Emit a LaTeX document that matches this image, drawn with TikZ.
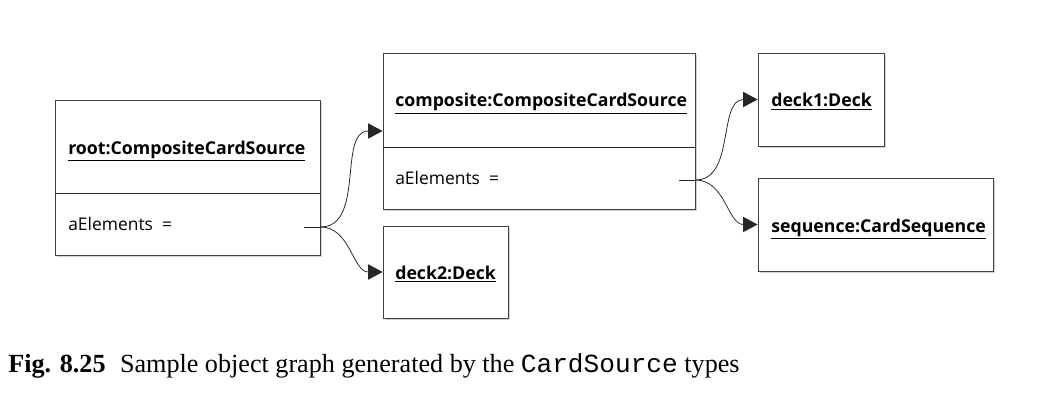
\documentclass[tikz,border=0pt]{standalone}
\usepackage{fontspec}
\setmainfont{Liberation Serif}
\newfontfamily\umlfont{Open Sans}
\newfontfamily\capmono{Liberation Mono}
\usepackage{tikz}
\usetikzlibrary{arrows.meta,shadows,positioning,calc}

\begin{document}
\begin{tikzpicture}[x=0.025cm, y=-0.025cm,
    objbox/.style={draw=black!75, line width=0.6pt, fill=white, inner sep=0pt,
        drop shadow={shadow xshift=1.2pt, shadow yshift=-1.2pt, fill=black!35, opacity=0.5}},
    objname/.style={font=\umlfont\fontsize{12.6}{15}\selectfont\bfseries, anchor=base west, inner sep=0pt},
    attr/.style={font=\umlfont\fontsize{12.4}{15}\selectfont, anchor=base west, inner sep=0pt},
    link/.style={draw=black!85, line width=0.55pt},
    linkarr/.style={link, -{Triangle[length=0.36cm, width=0.38cm]}}]

\useasboundingbox (0,0) rectangle (1057,420);

% Object boxes
\node[objbox, minimum width=6.625cm, minimum height=3.875cm] (root) at (187.5,177.5) {};
\node[objbox, minimum width=7.8cm, minimum height=3.9cm] (composite) at (539,131) {};
\node[objbox, minimum width=3.125cm, minimum height=2.3cm] (deck2) at (445.5,272) {};
\node[objbox, minimum width=3.15cm, minimum height=2.325cm] (deck1) at (821,99.5) {};
\node[objbox, minimum width=5.875cm, minimum height=2.325cm] (sequence) at (875.5,224.5) {};

% Compartment lines
\draw[link] (root.west |- 0,193) -- (root.east |- 0,193);
\draw[link] (composite.west |- 0,147) -- (composite.east |- 0,147);

% Object names
\node[objname] (rootname) at (68,154) {\underline{root:CompositeCardSource}};
\node[objname] (compname) at (395,107) {\underline{composite:CompositeCardSource}};
\node[objname] (deck2name) at (395,279) {\underline{deck2:Deck}};
\node[objname] (deck1name) at (771,107) {\underline{deck1:Deck}};
\node[objname] (seqname) at (771,232) {\underline{sequence:CardSequence}};

% Attributes
\node[attr] (rootattr) at (68,230) {aElements\ \ =};
\node[attr] (compattr) at (395,184) {aElements\ \ =};

% Links
\coordinate (rootout) at (root.east |- 0,227);
\coordinate (compout) at (composite.east |- 0,180);
\draw[link] ($(rootout)+(-16,0)$) -- (rootout);
\draw[link] ($(compout)+(-16,0)$) -- (compout);
\draw[linkarr] (rootout) to[out=0, in=180] (composite.west);
\draw[linkarr] (rootout) to[out=0, in=180] (deck2.west);
\draw[linkarr] (compout) to[out=0, in=180] (deck1.west);
\draw[linkarr] (compout) to[out=0, in=180] (sequence.west);

% Caption
\node[anchor=base west, inner sep=0pt, font=\fontsize{18.6}{21}\selectfont] (caption) at (8,372)
    {\textbf{Fig. 8.25}\hspace{0.55em}Sample object graph generated by the {\capmono CardSource} types};

\end{tikzpicture}
\end{document}
